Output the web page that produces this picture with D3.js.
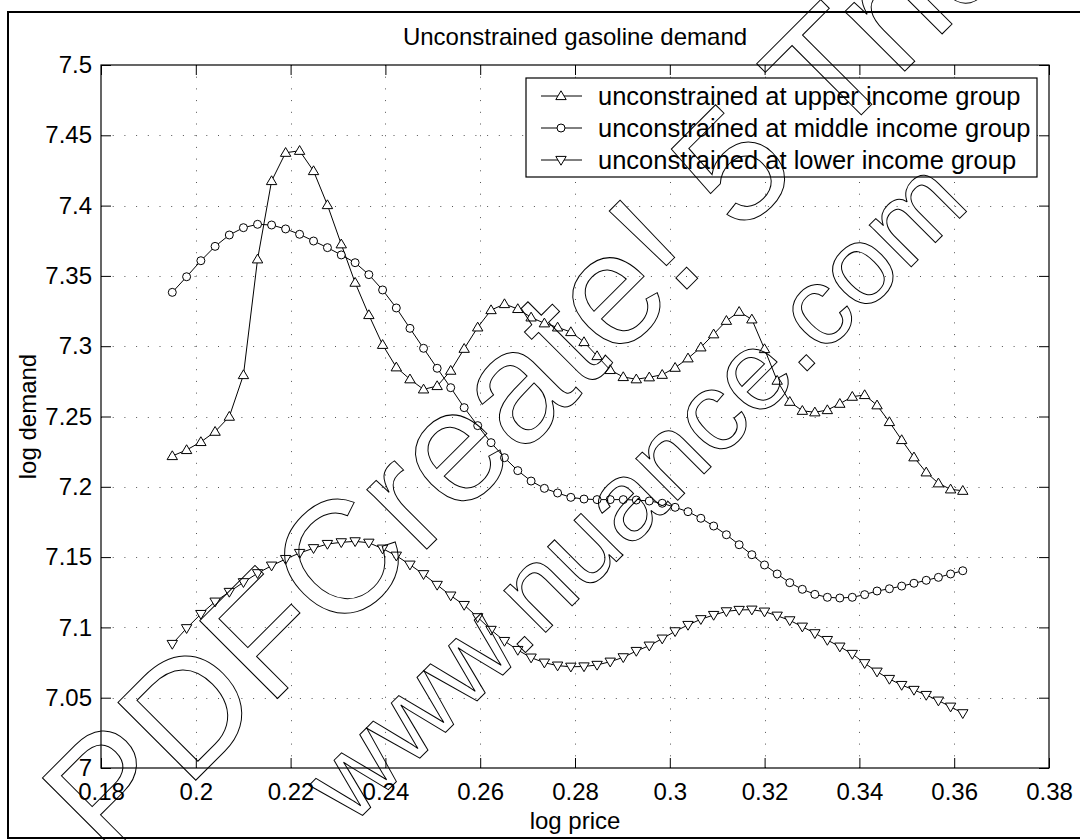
<!DOCTYPE html>
<html>
<head>
<meta charset="utf-8">
<script src="https://cdn.jsdelivr.net/npm/d3@7"></script>
<style>
  body { margin: 0; background: #fff; }
  svg text { font-family: "Liberation Sans", Arial, Helvetica, sans-serif; fill: #000; }
</style>
</head>
<body>
<div id="chart"></div>
<script>
// log price grid (x values of every series)
const logPrice = [
  0.19504, 0.19806, 0.20107, 0.20407, 0.20707, 0.21005, 0.21303, 0.21599, 0.21895, 0.22190,
  0.22484, 0.22777, 0.23069, 0.23361, 0.23651, 0.23941, 0.24230, 0.24518, 0.24805, 0.25092,
  0.25378, 0.25662, 0.25947, 0.26229, 0.26512, 0.26793, 0.27074, 0.27354, 0.27633, 0.27912,
  0.28190, 0.28466, 0.28743, 0.29018, 0.29293, 0.29567, 0.29840, 0.30112, 0.30384, 0.30655,
  0.30925, 0.31194, 0.31463, 0.31731, 0.31998, 0.32265, 0.32531, 0.32796, 0.33060, 0.33324,
  0.33587, 0.33850, 0.34111, 0.34372, 0.34633, 0.34892, 0.35151, 0.35410, 0.35667, 0.35924,
  0.36181
];

// log demand, upper income group
const upperDemand = [
  7.2219, 7.2262, 7.2319, 7.2392, 7.2499, 7.2795, 7.3618, 7.4175, 7.4376, 7.4390,
  7.4246, 7.4004, 7.3725, 7.3452, 7.3222, 7.3010, 7.2850, 7.2765, 7.2693, 7.2717,
  7.2826, 7.2982, 7.3134, 7.3257, 7.3300, 7.3265, 7.3205, 7.3163, 7.3134, 7.3101,
  7.3030, 7.2930, 7.2831, 7.2781, 7.2765, 7.2779, 7.2797, 7.2847, 7.2914, 7.2992,
  7.3085, 7.3181, 7.3245, 7.3191, 7.2980, 7.2755, 7.2605, 7.2541, 7.2530, 7.2546,
  7.2591, 7.2641, 7.2653, 7.2580, 7.2461, 7.2333, 7.2210, 7.2103, 7.2025, 7.1982,
  7.1972
];

// log demand, middle income group
const middleDemand = [
  7.3383, 7.3494, 7.3608, 7.3710, 7.3791, 7.3843, 7.3867, 7.3862, 7.3834, 7.3796,
  7.3748, 7.3701, 7.3649, 7.3594, 7.3509, 7.3400, 7.3272, 7.3127, 7.2985, 7.2843,
  7.2705, 7.2563, 7.2435, 7.2314, 7.2207, 7.2115, 7.2041, 7.1989, 7.1956, 7.1925,
  7.1913, 7.1909, 7.1909, 7.1909, 7.1906, 7.1899, 7.1883, 7.1854, 7.1823, 7.1776,
  7.1721, 7.1659, 7.1588, 7.1517, 7.1444, 7.1380, 7.1318, 7.1271, 7.1235, 7.1214,
  7.1209, 7.1214, 7.1233, 7.1259, 7.1275, 7.1294, 7.1314, 7.1335, 7.1356, 7.1380,
  7.1403
];

// log demand, lower income group
const lowerDemand = [
  7.0882, 7.0994, 7.1095, 7.1183, 7.1252, 7.1321, 7.1385, 7.1439, 7.1486, 7.1529,
  7.1563, 7.1593, 7.1605, 7.1612, 7.1602, 7.1560, 7.1510, 7.1446, 7.1378, 7.1302,
  7.1226, 7.1159, 7.1072, 7.0982, 7.0903, 7.0839, 7.0785, 7.0749, 7.0728, 7.0720,
  7.0722, 7.0733, 7.0756, 7.0787, 7.0832, 7.0870, 7.0920, 7.0972, 7.1017, 7.1058,
  7.1088, 7.1114, 7.1124, 7.1126, 7.1112, 7.1083, 7.1050, 7.1005, 7.0958, 7.0910,
  7.0863, 7.0811, 7.0745, 7.0685, 7.0633, 7.0590, 7.0555, 7.0519, 7.0479, 7.0436,
  7.0389
];

const seriesNames = [
  "unconstrained at upper income group",
  "unconstrained at middle income group",
  "unconstrained at lower income group"
];

const xTicks = [0.18, 0.2, 0.22, 0.24, 0.26, 0.28, 0.3, 0.32, 0.34, 0.36, 0.38];
const xTickLabels = ["0.18", "0.2", "0.22", "0.24", "0.26", "0.28", "0.3", "0.32", "0.34", "0.36", "0.38"];
const yTicks = [7, 7.05, 7.1, 7.15, 7.2, 7.25, 7.3, 7.35, 7.4, 7.45, 7.5];
const yTickLabels = ["7", "7.05", "7.1", "7.15", "7.2", "7.25", "7.3", "7.35", "7.4", "7.45", "7.5"];

// set the dimensions and margins of the graph
const margin = {top: 65, right: 31, bottom: 72, left: 101},
    width = 1080 - margin.left - margin.right,
    height = 840 - margin.top - margin.bottom;

const svg = d3.select("#chart")
  .append("svg")
    .attr("width", 1080)
    .attr("height", 840);

// figure frame
svg.append("rect")
  .attr("x", 8).attr("y", 12)
  .attr("width", 1080).attr("height", 826)
  .attr("fill", "none")
  .attr("stroke", "#000")
  .attr("stroke-width", 2);

const g = svg.append("g")
  .attr("transform", `translate(${margin.left},${margin.top})`);

const x = d3.scaleLinear().domain([0.18, 0.38]).range([0, width]);
const y = d3.scaleLinear().domain([7, 7.5]).range([height, 0]);

// dotted grid
const grid = g.append("g")
  .attr("stroke", "#555")
  .attr("stroke-width", 1)
  .attr("stroke-dasharray", "1,10.7");
grid.selectAll(".vgrid")
  .data(xTicks.slice(1, -1))
  .join("line")
    .attr("x1", d => Math.round(x(d)) + 0.5).attr("x2", d => Math.round(x(d)) + 0.5)
    .attr("y1", height).attr("y2", 0);
grid.selectAll(".hgrid")
  .data(yTicks.slice(1, -1))
  .join("line")
    .attr("y1", d => Math.round(y(d)) + 0.5).attr("y2", d => Math.round(y(d)) + 0.5)
    .attr("x1", 0).attr("x2", width);

// axes, ticks pointing inwards like matlab
const tickLen = 10;
g.append("g")
  .attr("transform", `translate(0,${height})`)
  .call(d3.axisBottom(x).tickValues(xTicks).tickFormat((d, i) => xTickLabels[i])
    .tickSizeInner(-tickLen).tickSizeOuter(0).tickPadding(15));
g.append("g")
  .call(d3.axisTop(x).tickValues(xTicks).tickFormat("")
    .tickSizeInner(-tickLen).tickSizeOuter(0));
g.append("g")
  .call(d3.axisLeft(y).tickValues(yTicks).tickFormat((d, i) => yTickLabels[i])
    .tickSizeInner(-tickLen).tickSizeOuter(0).tickPadding(9));
g.append("g")
  .attr("transform", `translate(${width},0)`)
  .call(d3.axisRight(y).tickValues(yTicks).tickFormat("")
    .tickSizeInner(-tickLen).tickSizeOuter(0));
g.selectAll(".domain").remove();
g.selectAll(".tick line").attr("stroke", "#000");
g.selectAll(".tick text")
  .attr("font-size", 24)
  .attr("font-family", "'Liberation Sans', Arial, Helvetica, sans-serif")
  .attr("fill", "#000");

// axes box
g.append("rect")
  .attr("width", width).attr("height", height)
  .attr("fill", "none")
  .attr("stroke", "#000")
  .attr("stroke-width", 1.2);

// title and axis labels
svg.append("text")
  .attr("x", margin.left + width / 2).attr("y", 45)
  .attr("text-anchor", "middle")
  .attr("font-size", 24)
  .text("Unconstrained gasoline demand");
svg.append("text")
  .attr("x", margin.left + width / 2).attr("y", 829)
  .attr("text-anchor", "middle")
  .attr("font-size", 24)
  .text("log price");
svg.append("text")
  .attr("transform", `translate(36,${margin.top + height / 2})rotate(-90)`)
  .attr("text-anchor", "middle")
  .attr("font-size", 24)
  .text("log demand");

// marker shapes
const triUp = "M0,-5.2L5.2,3.6L-5.2,3.6Z";
const triDown = "M0,5.2L5.2,-3.6L-5.2,-3.6Z";
const drawMarker = (sel, kind) => {
  if (kind === "circle") {
    sel.append("circle").attr("r", 4);
  } else {
    sel.append("path").attr("d", kind === "up" ? triUp : triDown);
  }
};

const series = [
  {name: seriesNames[0], values: upperDemand, marker: "up"},
  {name: seriesNames[1], values: middleDemand, marker: "circle"},
  {name: seriesNames[2], values: lowerDemand, marker: "down"}
];

const line = d3.line()
  .x((d, i) => x(logPrice[i]))
  .y(d => y(d));

const plot = g.append("g");
series.forEach(s => {
  plot.append("path")
    .datum(s.values)
    .attr("fill", "none")
    .attr("stroke", "#000")
    .attr("stroke-width", 1)
    .attr("d", line);
  plot.append("g")
    .selectAll("g")
    .data(s.values)
    .join("g")
      .attr("transform", (d, i) => `translate(${x(logPrice[i])},${y(d)})`)
      .attr("fill", "#fff")
      .attr("stroke", "#000")
      .attr("stroke-width", 1)
      .each(function() { drawMarker(d3.select(this), s.marker); });
});

// legend
const legend = g.append("g")
  .attr("transform", "translate(425,13)");
legend.append("rect")
  .attr("width", 511).attr("height", 99)
  .attr("fill", "#fff")
  .attr("stroke", "#000")
  .attr("stroke-width", 1.2);
const rows = legend.selectAll(".row")
  .data(series)
  .join("g")
    .attr("transform", (d, i) => `translate(0,${18 + i * 32})`);
rows.append("line")
  .attr("x1", 15).attr("x2", 56)
  .attr("stroke", "#000");
rows.append("g")
  .attr("transform", "translate(35,0)")
  .attr("fill", "#fff")
  .attr("stroke", "#000")
  .each(function(d) { drawMarker(d3.select(this), d.marker); });
rows.append("text")
  .attr("x", 72).attr("y", 9)
  .attr("font-size", 25.5)
  .text(d => d.name);

// watermark of the pdf printer, outlined text on top
const wm = svg.append("g")
  .attr("fill", "none")
  .attr("stroke", "#000")
  .attr("stroke-width", 1)
  .style("pointer-events", "none");
wm.append("text")
  .attr("transform", "translate(111,865)rotate(-45)")
  .attr("font-size", 160)
  .style("fill", "none")
  .text("PDFCreate! 5 Trial");
wm.append("text")
  .attr("transform", "translate(351,827)rotate(-45)")
  .attr("font-size", 112)
  .style("fill", "none")
  .text("www.nuance.com");
</script>
</body>
</html>
